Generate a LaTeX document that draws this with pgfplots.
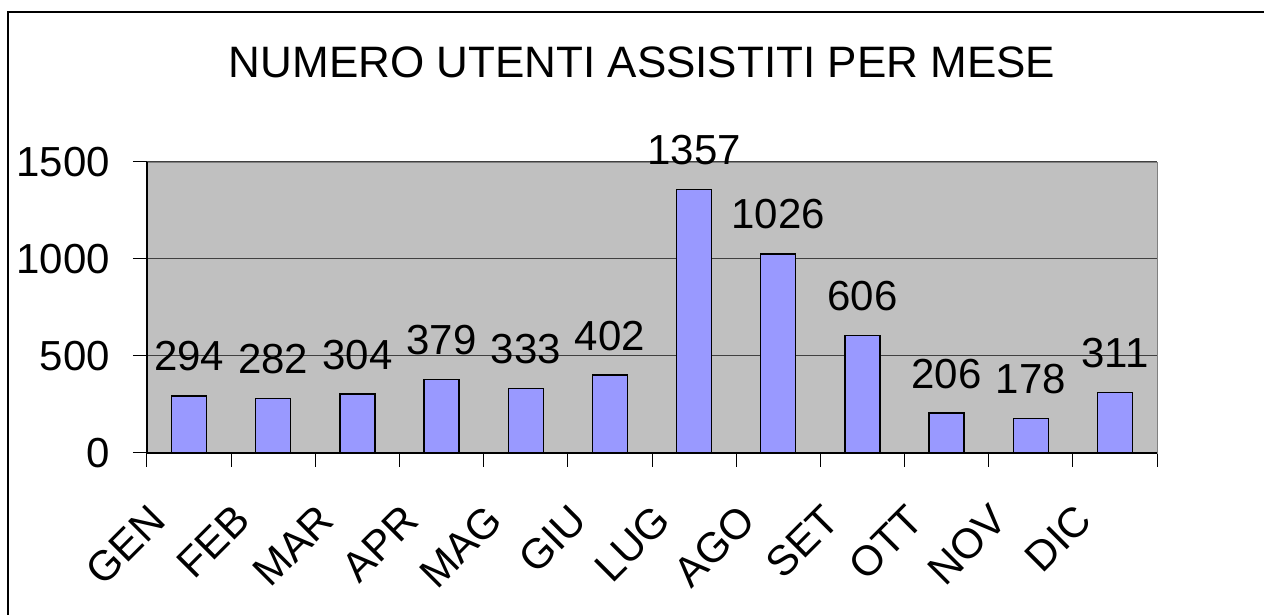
\documentclass[border=0pt]{standalone}
\usepackage{pgfplots}
\pgfplotsset{compat=1.18}
\usepackage{fontspec}
\setmainfont{Liberation Sans}
\definecolor{plotbg}{HTML}{C0C0C0}
\definecolor{barfill}{HTML}{9999FF}
\definecolor{gridc}{HTML}{404040}
\begin{document}
\begin{tikzpicture}
\newcommand{\bigf}{\fontsize{21}{25}\selectfont}
\path[use as bounding box] (0,0) rectangle (632pt,307.5pt);
\draw[line width=0.9pt] (4pt,-1pt) -- (4pt,301.5pt) -- (633pt,301.5pt);
\node[anchor=base, font=\fontsize{22}{26}\selectfont] at (321pt,268.5pt) {NUMERO UTENTI ASSISTITI PER MESE};
\begin{axis}[
  at={(73.5pt,81pt)}, anchor=south west,
  scale only axis, width=505pt, height=145.5pt,
  xmin=-0.5, xmax=11.5, ymin=0, ymax=1500,
  clip=false,
  /pgf/number format/assume math mode=true,
  /pgf/number format/set thousands separator={},
  axis background/.style={fill=plotbg},
  axis line style={draw=gray},
  ytick={0,500,1000,1500},
  xtick pos=lower, ytick pos=left,
  ymajorgrids, grid style={gridc, line width=0.5pt},
  xtick={0,...,11},
  xticklabels={GEN,FEB,MAR,APR,MAG,GIU,LUG,AGO,SET,OTT,NOV,DIC},
  minor xtick={-0.5,0.5,...,11.5},
  major x tick style={draw=none},
  minor x tick style={black, line width=0.5pt},
  ytick style={black, line width=0.5pt},
  tick align=outside, major tick length=7pt, minor tick length=7pt,
  tick label style={font=\bigf},
  yticklabel style={anchor=east, xshift=-8pt},
  xticklabel style={xshift=-8pt, yshift=-25.5pt, rotate=45, anchor=base east},
  ybar, bar width=17.5pt,
  nodes near coords,
  every node near coord/.append style={font=\bigf, anchor=base, yshift=12.5pt},
]
\addplot[fill=barfill, draw=black, line width=0.7pt] coordinates {
(0,294) (1,282) (2,304) (3,379) (4,333) (5,402)
(6,1357) (7,1026) (8,606) (9,206) (10,178) (11,311)};
\draw[black, line width=0.7pt] (axis cs:-0.5,0) -- (axis cs:11.5,0);
\draw[black, line width=0.7pt] (axis cs:-0.5,0) -- (axis cs:-0.5,1500);
\end{axis}
\end{tikzpicture}
\end{document}
